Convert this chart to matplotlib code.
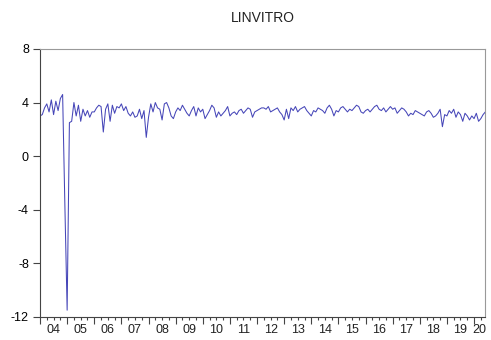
import matplotlib
matplotlib.use("Agg")
import matplotlib.pyplot as plt
import matplotlib.transforms as mtransforms
import numpy as np

plt.rcParams['font.family'] = ['Liberation Sans', 'DejaVu Sans']

# monthly series, 2004M01 .. 2020M06
start_year = 2004
values = [
    # 2004
    3.0, 3.1, 3.6, 3.9, 3.3, 4.2, 3.1, 4.1, 3.4, 4.3, 4.6, -3.7,
    # 2005
    -11.5, 2.5, 2.6, 4.0, 3.0, 3.8, 2.6, 3.5, 3.0, 3.4, 2.9, 3.3,
    # 2006
    3.3, 3.6, 3.8, 3.7, 1.8, 3.5, 3.9, 2.6, 3.8, 3.2, 3.7, 3.6,
    # 2007
    3.9, 3.4, 3.7, 3.2, 3.0, 3.3, 2.9, 3.0, 3.5, 2.8, 3.4, 1.4,
    # 2008
    2.9, 3.9, 3.3, 4.0, 3.6, 3.5, 2.7, 3.9, 4.0, 3.6, 3.0, 2.8,
    # 2009
    3.3, 3.6, 3.4, 3.8, 3.5, 3.2, 3.0, 3.4, 3.7, 3.0, 3.6, 3.3,
    # 2010
    3.5, 2.8, 3.1, 3.4, 3.8, 3.6, 2.9, 3.3, 3.0, 3.2, 3.4, 3.7,
    # 2011
    3.0, 3.2, 3.3, 3.1, 3.4, 3.5, 3.2, 3.4, 3.6, 3.5, 2.9, 3.3,
    # 2012
    3.4, 3.5, 3.6, 3.6, 3.5, 3.7, 3.3, 3.4, 3.5, 3.6, 3.3, 3.1,
    # 2013
    2.7, 3.5, 2.8, 3.6, 3.4, 3.7, 3.3, 3.5, 3.6, 3.7, 3.4, 3.2,
    # 2014
    3.0, 3.4, 3.3, 3.6, 3.5, 3.4, 3.2, 3.6, 3.8, 3.5, 3.0, 3.4,
    # 2015
    3.3, 3.6, 3.7, 3.5, 3.3, 3.5, 3.4, 3.6, 3.8, 3.7, 3.3, 3.2,
    # 2016
    3.4, 3.5, 3.3, 3.5, 3.7, 3.8, 3.5, 3.4, 3.6, 3.3, 3.5, 3.7,
    # 2017
    3.5, 3.6, 3.2, 3.4, 3.6, 3.5, 3.3, 3.0, 3.2, 3.1, 3.4, 3.3,
    # 2018
    3.2, 3.1, 3.0, 3.3, 3.4, 3.2, 2.9, 3.0, 3.2, 3.5, 2.2, 3.1,
    # 2019
    3.0, 3.4, 3.2, 3.5, 2.9, 3.3, 3.1, 2.6, 3.2, 3.0, 2.7, 3.0,
    # 2020
    2.8, 3.2, 2.6, 2.8, 3.1, 3.3,
]
yticks = [8, 4, 0, -4, -8, -12]
title = "LINVITRO"

t = start_year + np.arange(len(values)) / 12.0
x_end = t[-1]

fig = plt.figure(figsize=(4.91, 3.40), dpi=100)
ax = fig.add_axes([0.0815, 0.068, 0.907, 0.788])
ax.plot(t, values, color='#4646b8', linewidth=0.75)

ax.set_xlim(start_year, x_end)
ax.set_ylim(-12, 8)
ax.set_yticks(yticks)
ax.set_yticklabels([str(v) for v in yticks])

years = np.arange(start_year, int(np.floor(x_end)) + 1)
ax.set_xticks(years)
ax.set_xticklabels([''] * len(years))
quarters = np.arange(start_year, x_end + 1e-9, 0.25)
ax.set_xticks(quarters, minor=True)

ax.tick_params(axis='x', which='major', direction='out', length=5, width=0.8, color='#444444')
ax.tick_params(axis='x', which='minor', direction='out', length=2.5, width=0.8, color='#444444')
ax.tick_params(axis='y', which='major', direction='out', length=5, width=0.8, color='#444444',
               labelsize=9, pad=3)

# year labels centred in the visible part of each year
trans = mtransforms.blended_transform_factory(ax.transData, ax.transAxes)
for y in years:
    mid = (y + min(y + 1, x_end)) / 2.0
    ax.text(mid, -0.025, f"{y % 100:02d}", transform=trans, ha='center', va='top',
            fontsize=9, color='#222222')

for side in ['left', 'bottom']:
    ax.spines[side].set_color('#444444')
    ax.spines[side].set_linewidth(0.8)
for side in ['top', 'right']:
    ax.spines[side].set_color('#999999')
    ax.spines[side].set_linewidth(0.8)

fig.text(0.535, 0.948, title, ha='center', va='center', fontsize=10, color='#222222')

fig.savefig("out.png", dpi=100)
